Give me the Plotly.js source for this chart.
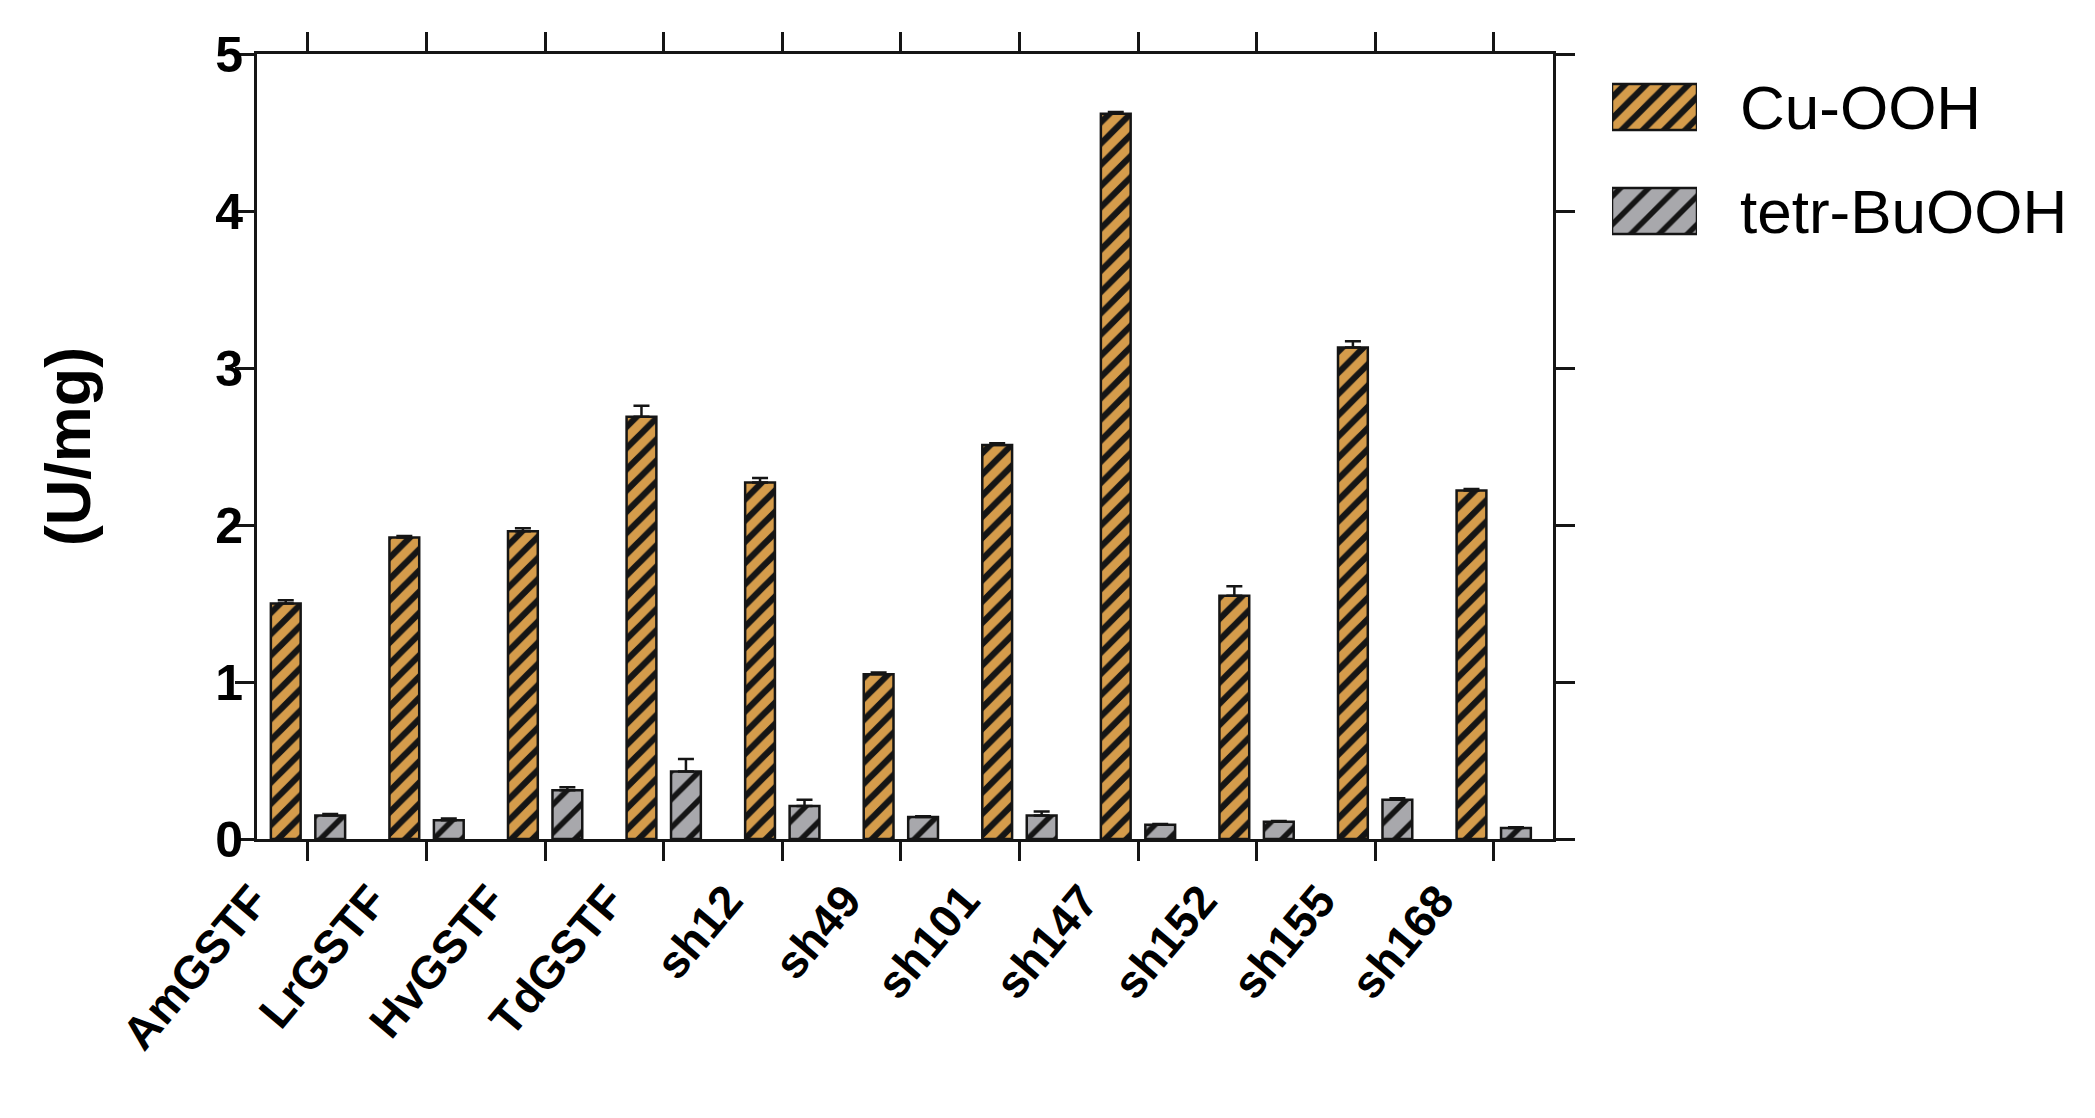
<!DOCTYPE html>
<html>
<head>
<meta charset="utf-8">
<script src="https://cdn.plot.ly/plotly-3.0.1.min.js"></script>
<style>html,body{margin:0;padding:0;background:#fff;}#chart{width:2095px;height:1118px;}</style>
</head>
<body>
<div id="chart"></div>
<script>
// ---- data ----
const categories = ['AmGSTF','LrGSTF','HvGSTF','TdGSTF','sh12','sh49','sh101','sh147','sh152','sh155','sh168'];
const cuOOH      = [1.50, 1.92, 1.96, 2.69, 2.27, 1.05, 2.51, 4.62, 1.55, 3.13, 2.22];
const cuOOHErr   = [0.02, 0.01, 0.02, 0.07, 0.03, 0.01, 0.01, 0.01, 0.06, 0.04, 0.01];
const tetrBuOOH  = [0.15, 0.12, 0.31, 0.43, 0.21, 0.14, 0.15, 0.09, 0.11, 0.25, 0.07];
const tetrErr    = [0.01, 0.01, 0.02, 0.08, 0.04, 0.005, 0.025, 0.005, 0.005, 0.01, 0.005];
const seriesNames = ['Cu-OOH', 'tetr-BuOOH'];
const legendKey   = [1];
const yTicks = [0, 1, 2, 3, 4, 5];

// ---- styles ----
const FONT = 'Liberation Sans, Arial, Helvetica, sans-serif';
const INK = '#151515';
const colors = ['#D59C4B', '#A8A8AC'];
const patSize = [15, 20];
const patSolid = [0.42, 0.28];
const zeros = n => new Array(n).fill(0);

function markerFor(i) {
  return {
    color: colors[i],
    line: {color: INK, width: 2.5},
    pattern: {shape: '/', fgcolor: INK, bgcolor: colors[i], size: patSize[i], solidity: patSolid[i], fillmode: 'replace'}
  };
}

function mainTrace(i, y, err) {
  return {
    type: 'bar', x: categories, y: y, name: seriesNames[i], showlegend: false, hoverinfo: 'skip',
    xaxis: 'x', yaxis: 'y', marker: markerFor(i),
    error_y: {type: 'data', symmetric: false, array: err, arrayminus: zeros(err.length),
              color: INK, thickness: 2.5, width: 8}
  };
}

function legendTrace(i) {
  return {
    type: 'bar', orientation: 'h', y: [seriesNames[i]], x: legendKey, width: 0.44,
    offsetgroup: 'key', xaxis: 'x2', yaxis: 'y2', showlegend: false, hoverinfo: 'skip',
    marker: markerFor(i)
  };
}

const W = 2095, H = 1118;
const L = 257, R = 20, T = 54, B = 279;
const plotW = W - L - R, plotH = H - T - B;
const frac = px => (px - L) / plotW;
const yfrac = py => (H - B - py) / plotH;

const layout = {
  width: W, height: H,
  margin: {l: L, r: R, t: T, b: B, pad: 0},
  paper_bgcolor: '#fff', plot_bgcolor: '#fff',
  font: {family: FONT, color: '#000'},
  barmode: 'group', bargap: 0.25, bargroupgap: 0.33,
  showlegend: false,
  xaxis: {
    domain: [0, frac(1553)], anchor: 'y', type: 'category', range: [-0.43, 10.5],
    showline: true, linecolor: INK, linewidth: 3, mirror: 'ticks',
    ticks: 'outside', ticklen: 19, tickwidth: 3, tickcolor: INK,
    tickangle: -50, ticklabelshift: -55, ticklabelstandoff: -6,
    tickfont: {family: FONT, size: 46, weight: 'bold', color: '#000'},
    showgrid: false, zeroline: false, fixedrange: true
  },
  yaxis: {
    domain: [0, 1], anchor: 'x', range: [0, 5], tickvals: yTicks,
    showline: true, linecolor: INK, linewidth: 3, mirror: 'ticks',
    ticks: 'outside', ticklen: 19, tickwidth: 3, tickcolor: INK, ticklabelstandoff: -18,
    tickfont: {family: FONT, size: 50, weight: 'bold', color: '#000'},
    title: {text: '(U/mg)', font: {family: FONT, size: 63, weight: 'bold', color: '#000'}, standoff: 105},
    showgrid: false, zeroline: false, fixedrange: true
  },
  xaxis2: {domain: [frac(1612), frac(1697)], anchor: 'y2', range: [0, 1], visible: false, fixedrange: true},
  yaxis2: {
    domain: [yfrac(263), yfrac(55)], anchor: 'x2', type: 'category', categoryarray: seriesNames,
    autorange: 'reversed', side: 'right', showline: false, ticks: '', ticklabelstandoff: 42,
    showgrid: false, zeroline: false,
    tickfont: {family: FONT, size: 62, color: '#000'}, fixedrange: true
  }
};

Plotly.newPlot('chart',
  [mainTrace(0, cuOOH, cuOOHErr), mainTrace(1, tetrBuOOH, tetrErr), legendTrace(0), legendTrace(1)],
  layout, {displayModeBar: false, staticPlot: true});
</script>
</body>
</html>
